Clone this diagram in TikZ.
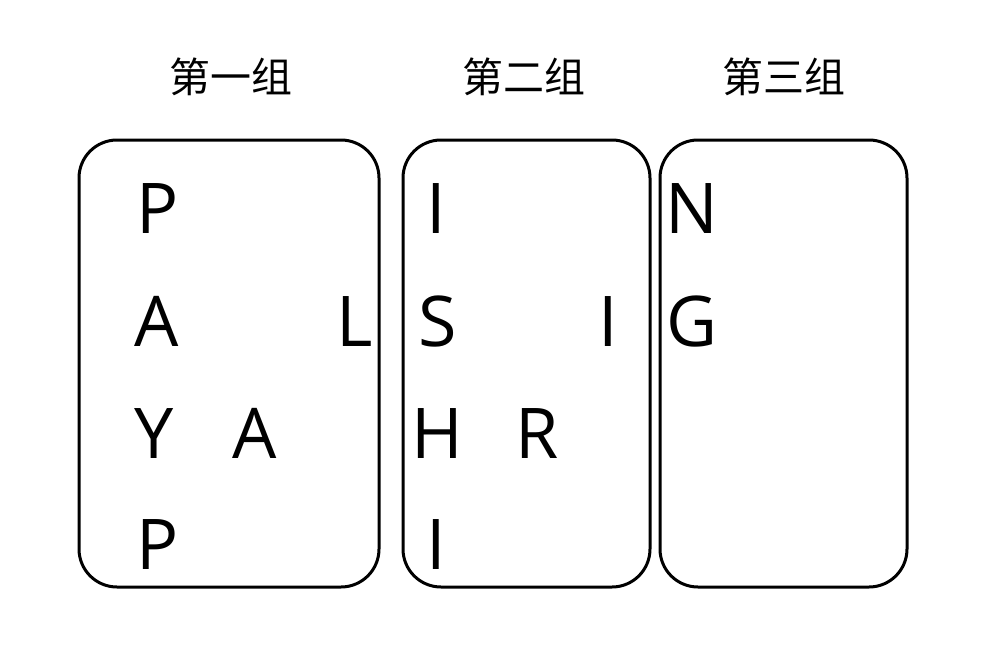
\documentclass[tikz,border=0pt]{standalone}
\usepackage{fontspec}
\setmainfont{Open Sans}
\newfontfamily\cjk{Noto Sans CJK SC}
\begin{document}
\begin{tikzpicture}[x=1pt,y=-1pt,
  grp/.style={draw=black,line width=3pt,rounded corners=38pt},
  ttl/.style={font=\cjk\fontsize{41}{41}\selectfont,anchor=center,inner sep=0pt},
  ltr/.style={font=\fontsize{70}{70}\selectfont,anchor=base,inner sep=0pt}]
\useasboundingbox (0,0) rectangle (996,646);
\fill[white] (0,0) rectangle (996,646);
\node[ttl] (t1) at (231,77) {第一组};
\node[ttl] (t2) at (524,77) {第二组};
\node[ttl] (t3) at (784,77) {第三组};
\draw[grp] (79,140) rectangle (379,587);
\draw[grp] (403,140) rectangle (650,587);
\draw[grp] (660,140) rectangle (907,587);
% group 1
\node[ltr] (p1) at (158,233) {P};
\node[ltr] (a1) at (157,346) {A};
\node[ltr] (l1) at (355,346) {L};
\node[ltr] (y1) at (154,458) {Y};
\node[ltr] (a2) at (255,458) {A};
\node[ltr] (p2) at (158,569) {P};
% group 2
\node[ltr] (i1) at (436,233) {I};
\node[ltr] (s1) at (438,346) {S};
\node[ltr] (i2) at (608,346) {I};
\node[ltr] (h1) at (437,458) {H};
\node[ltr] (r1) at (537,458) {R};
\node[ltr] (i3) at (436,569) {I};
% group 3
\node[ltr] (n1) at (692,233) {N};
\node[ltr] (g1) at (692,346) {G};
\end{tikzpicture}
\end{document}
